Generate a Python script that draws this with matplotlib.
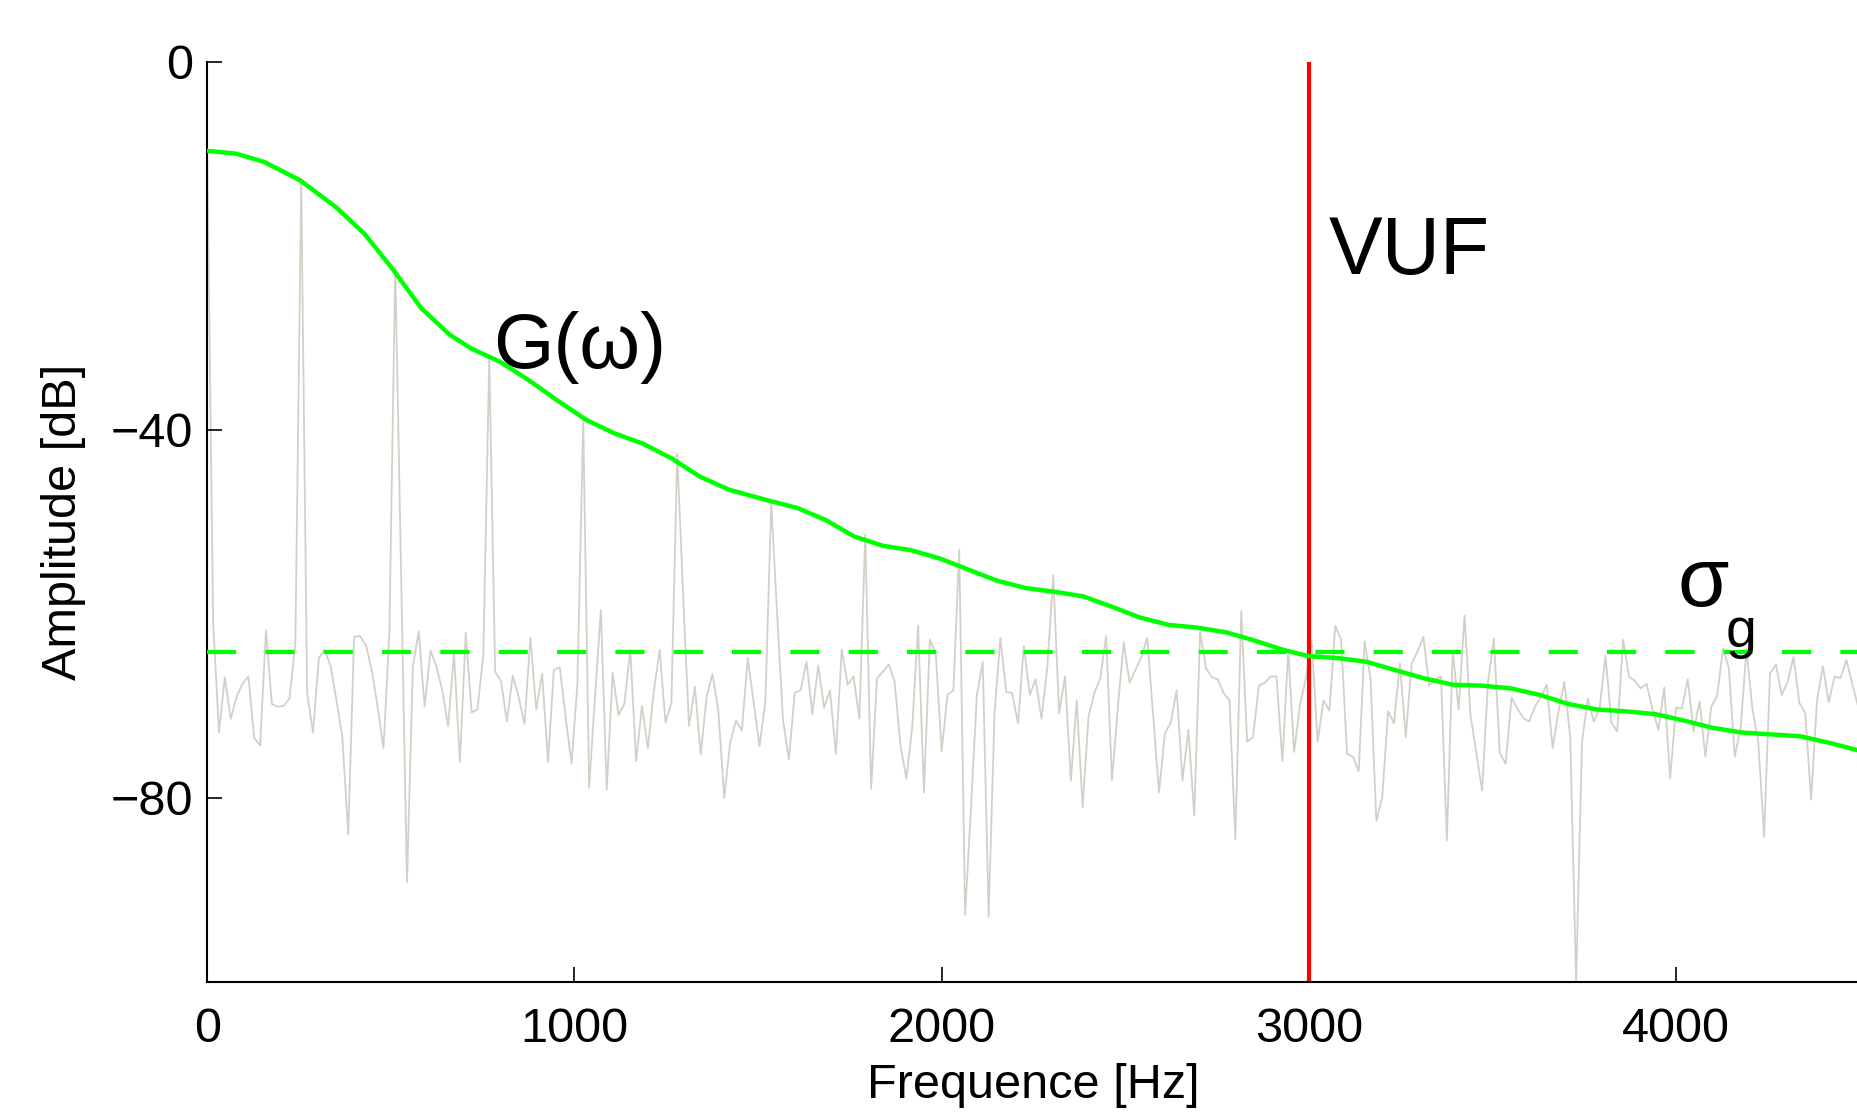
import matplotlib
matplotlib.use("Agg")
import matplotlib.pyplot as plt
import numpy as np

plt.rcParams['font.family'] = ['Liberation Sans', 'DejaVu Sans']

# spectrum bins (16 Hz apart), amplitude in dB
df = 16.0
spectrum_db = [
    -9.7, -61.0, -72.9, -66.9, -71.4, -69.0, -67.6, -66.8, -73.5, -74.3,
    -61.8, -69.8, -70.1, -70.0, -69.2, -63.2, -13.0, -68.6, -72.9, -64.8,
    -63.9, -65.7, -69.4, -73.4, -84.0, -62.5, -62.4, -63.4, -66.1, -70.1,
    -74.6, -62.1, -22.3, -56.0, -89.2, -65.7, -61.9, -70.1, -64.0, -65.7,
    -68.3, -72.2, -64.3, -76.1, -62.1, -70.7, -70.4, -64.3, -32.1, -66.3,
    -67.3, -71.7, -66.7, -69.0, -72.0, -62.6, -70.4, -66.5, -76.1, -66.1,
    -65.8, -71.2, -76.3, -67.7, -39.1, -78.9, -69.0, -59.6, -79.1, -66.4,
    -71.0, -69.8, -63.9, -76.0, -70.0, -74.6, -68.5, -63.9, -71.8, -69.7,
    -42.6, -58.0, -72.2, -67.9, -75.3, -69.0, -66.5, -70.6, -80.0, -74.0,
    -71.6, -72.7, -64.8, -69.6, -74.4, -69.5, -47.9, -60.0, -71.5, -75.8,
    -68.6, -68.3, -65.2, -70.9, -65.6, -70.2, -68.3, -75.2, -63.9, -67.7,
    -66.8, -71.4, -51.4, -79.0, -67.0, -66.3, -65.5, -67.4, -74.3, -77.9,
    -72.3, -61.3, -79.4, -62.8, -64.3, -74.9, -68.8, -68.3, -53.0, -92.7,
    -81.0, -68.8, -65.2, -92.9, -70.9, -62.6, -68.5, -68.6, -71.9, -63.5,
    -68.8, -67.1, -71.4, -65.7, -55.8, -70.8, -66.8, -78.1, -69.4, -81.0,
    -71.2, -68.6, -67.0, -62.4, -78.1, -70.1, -63.1, -67.5, -66.1, -64.7,
    -62.6, -71.0, -79.4, -73.0, -71.8, -68.3, -78.1, -72.6, -81.9, -62.0,
    -65.9, -66.9, -67.1, -68.6, -69.4, -84.5, -59.7, -73.9, -73.4, -67.8,
    -67.5, -66.8, -66.8, -76.0, -64.0, -75.0, -69.9, -67.0, -63.0, -73.9,
    -69.4, -70.5, -61.3, -62.8, -75.2, -75.5, -77.1, -63.0, -67.0, -82.5,
    -79.9, -70.6, -71.9, -65.4, -73.4, -65.4, -64.1, -62.5, -67.8, -67.2,
    -66.8, -84.6, -64.0, -70.4, -60.2, -70.9, -75.1, -79.2, -67.4, -62.7,
    -75.1, -76.3, -69.1, -70.3, -71.3, -71.7, -70.1, -69.0, -67.7, -74.6,
    -70.6, -67.4, -73.4, -100.0, -73.9, -69.2, -71.7, -70.3, -64.5, -71.8,
    -72.8, -62.8, -66.8, -67.3, -68.1, -67.6, -70.4, -72.6, -68.0, -77.9,
    -70.2, -70.3, -67.1, -72.8, -69.5, -75.5, -70.1, -68.9, -63.8, -65.9,
    -75.5, -72.4, -63.8, -70.3, -73.9, -84.2, -66.5, -65.5, -68.8, -67.4,
    -64.7, -69.7, -70.8, -80.2, -69.4, -65.7, -69.6, -66.8, -67.0, -65.0,
    -67.6, -70.1,
]
freqs = np.arange(len(spectrum_db)) * df

# envelope G(w)
env_freq = [0, 78, 155, 253, 350, 428, 506, 583, 661, 720, 797, 875, 953,
            1031, 1109, 1186, 1264, 1342, 1420, 1529, 1607, 1684, 1762, 1840,
            1918, 1996, 2073, 2151, 2229, 2307, 2385, 2462, 2540, 2618, 2696,
            2774, 2852, 2929, 3000, 3077, 3156, 3234, 3313, 3392, 3471, 3550,
            3628, 3707, 3786, 3865, 3944, 4022, 4101, 4180, 4259, 4337, 4416,
            4493]
env_db = [-9.7, -10.0, -10.9, -12.9, -15.8, -18.7, -22.6, -26.8, -29.7, -31.2,
          -32.6, -34.6, -36.8, -38.9, -40.4, -41.5, -43.1, -45.1, -46.5, -47.7,
          -48.5, -49.8, -51.6, -52.6, -53.1, -54.0, -55.2, -56.4, -57.2, -57.6,
          -58.1, -59.2, -60.4, -61.2, -61.5, -62.0, -62.9, -63.9, -64.6, -64.8,
          -65.2, -66.1, -67.0, -67.7, -67.8, -68.1, -68.8, -69.8, -70.4, -70.6,
          -70.9, -71.6, -72.4, -72.9, -73.1, -73.3, -74.0, -74.8]

noise_level = -64.2
vuf = 3000

fig = plt.figure(figsize=(18.57, 11.16), dpi=100)
ax = fig.add_axes([0.1116, 0.1201, 0.8898, 0.8247])

ax.plot(freqs, spectrum_db, color='#d4d0c8', lw=1.3, zorder=1)
ax.axvline(vuf, color='#ff0000', lw=3, zorder=2)
ax.axhline(noise_level, color='#00ff00', lw=3, dashes=(7, 7), zorder=3)
ax.plot(env_freq, env_db, color='#00ff00', lw=3.2, zorder=4,
        solid_joinstyle='round')

ax.text(778, -33.3, 'G(ω)', fontsize=56, ha='left', va='baseline')
ax.text(3055, -23.1, 'VUF', fontsize=58, ha='left', va='baseline')
ax.text(4005, -59.2, 'σ', fontsize=60, ha='left', va='baseline')
ax.text(4135, -63.6, 'g', fontsize=40, ha='left', va='baseline')

ax.set_xlim(0, 4500)
ax.set_ylim(-100, 0)
ax.set_xticks([0, 1000, 2000, 3000, 4000])
ax.set_yticks([0, -40, -80])
ax.tick_params(direction='in', length=11, width=1.2, labelsize=35)
ax.tick_params(axis='x', pad=18)
ax.tick_params(axis='y', pad=10)
for s in ['top', 'right']:
    ax.spines[s].set_visible(False)
for s in ['left', 'bottom']:
    ax.spines[s].set_linewidth(1.5)

ax.set_xlabel('Frequence [Hz]', fontsize=35, labelpad=8)
ax.set_ylabel('Amplitude [dB]', fontsize=35, labelpad=18)

fig.savefig('out.png', dpi=100)
